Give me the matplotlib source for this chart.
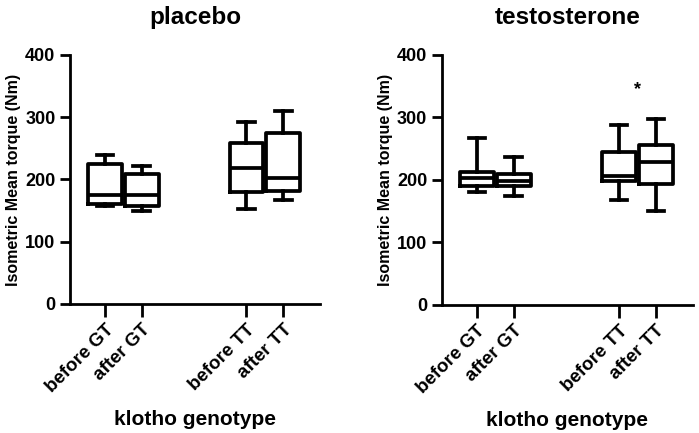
import matplotlib
matplotlib.use("Agg")
from matplotlib import pyplot as plt

plt.rcParams['font.family'] = ['Liberation Sans', 'DejaVu Sans']
plt.rcParams['font.weight'] = 'bold'

# data (Nm)
groups = ['before GT', 'after GT', 'before TT', 'after TT']

placebo_whislo = [158, 149, 152, 167]
placebo_q1 = [160, 158, 180, 181]
placebo_med = [175, 175, 218, 203]
placebo_q3 = [225, 208, 258, 274]
placebo_whishi = [239, 222, 293, 310]

testo_whislo = [180, 174, 168, 151]
testo_q1 = [191, 191, 198, 193]
testo_med = [203, 198, 206, 229]
testo_q3 = [212, 210, 244, 256]
testo_whishi = [267, 237, 288, 297]

positions = [0, 1, 3.85, 4.85]


def make_stats(lo, q1, med, q3, hi):
    stats = []
    for i in range(len(groups)):
        stats.append(dict(whislo=lo[i], q1=q1[i], med=med[i], q3=q3[i],
                          whishi=hi[i], label=groups[i]))
    return stats


fig = plt.figure(figsize=(6.99, 4.33), dpi=100)
ax1 = fig.add_axes([0.1001, 0.298, 0.3577, 0.575])
ax2 = fig.add_axes([0.632, 0.296, 0.359, 0.577])

lw = 2.7
panels = [
    (ax1, 'placebo', make_stats(placebo_whislo, placebo_q1, placebo_med, placebo_q3, placebo_whishi)),
    (ax2, 'testosterone', make_stats(testo_whislo, testo_q1, testo_med, testo_q3, testo_whishi)),
]

for ax, title, stats in panels:
    ax.bxp(stats, positions=positions, widths=0.92, capwidths=0.45,
           showfliers=False, patch_artist=False,
           boxprops=dict(color='black', linewidth=lw),
           medianprops=dict(color='black', linewidth=lw, solid_capstyle='butt'),
           whiskerprops=dict(color='black', linewidth=lw),
           capprops=dict(color='black', linewidth=lw))
    ax.set_ylim(0, 400)
    ax.set_xlim(-0.95, 5.85)
    ax.set_yticks([0, 100, 200, 300, 400])
    ax.set_xticks(positions)
    ax.set_xticklabels(groups, rotation=45, ha='right', rotation_mode='anchor',
                       fontsize=13.5, fontweight='bold')
    ax.tick_params(axis='y', labelsize=13, width=2, length=7)
    ax.tick_params(axis='x', width=2, length=9)
    for lab in ax.get_yticklabels():
        lab.set_fontweight('bold')
    ax.spines['top'].set_visible(False)
    ax.spines['right'].set_visible(False)
    ax.spines['left'].set_linewidth(2)
    ax.spines['bottom'].set_linewidth(2)
    ax.set_ylabel('Isometric Mean torque (Nm)', fontsize=11.5, fontweight='bold',
                  labelpad=3)
    ax.set_xlabel('klotho genotype', fontsize=15, fontweight='bold', labelpad=10)
    ax.set_title(title, fontsize=17.5, fontweight='bold', pad=22)

ax2.text((positions[2] + positions[3]) / 2, 345, '*', ha='center', va='center',
         fontsize=13, fontweight='bold')

plt.savefig('out.png', dpi=100)
